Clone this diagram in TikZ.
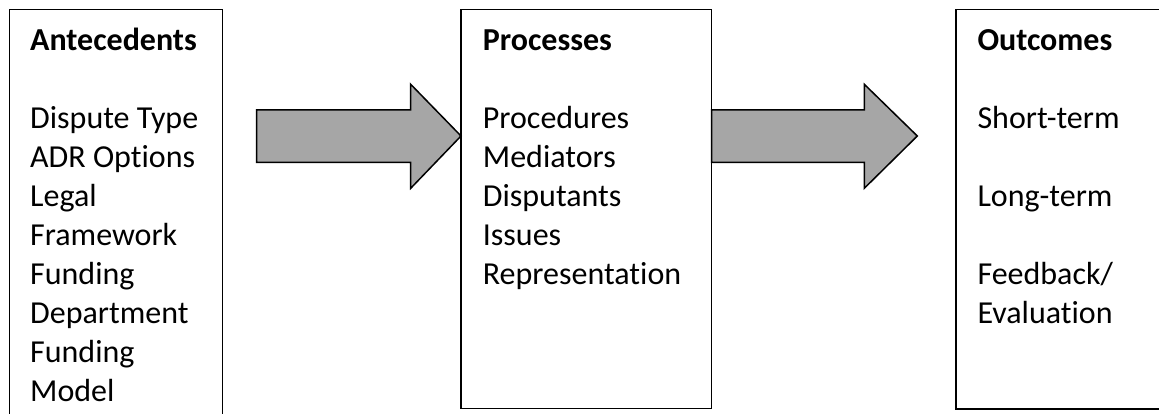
\documentclass[tikz,border=0pt]{standalone}
\usepackage{fontspec}
\setmainfont[Ligatures={NoCommon}]{Carlito}
\begin{document}
\begin{tikzpicture}[x=1pt,y=-1pt,
  box/.style={draw=black, line width=1.5pt, fill=white},
  bigarrow/.style={draw=black, line width=1.5pt, fill=arrowgray, line join=miter},
  lbl/.style={inner sep=0pt, anchor=base west, align=left, font=\fontsize{32}{39}\selectfont}
]
\definecolor{arrowgray}{HTML}{A6A6A6}
\useasboundingbox (0,0) rectangle (1159,414);
% boxes
\path[box] (9.5,9.5) rectangle (222.7,440);
\coordinate (antE) at (222.7,136);
\path[box] (461,9.5) rectangle (711.7,408.5);
\coordinate (proW) at (461,136);
\coordinate (proE) at (711.7,136);
\path[box] (956,9.5) rectangle (1180,409);
\coordinate (outW) at (956,136);
% arrows
\coordinate (a1tail) at (256.7,136);
\draw[bigarrow] (a1tail) ++(0,-26) -- (410.7,110) -- (410.7,84.3) -- (proW) -- (410.7,188.3) -- (410.7,162.3) -- (256.7,162.3) -- cycle;
\coordinate (a2tip) at (917.3,136);
\draw[bigarrow] (proE) ++(0,-26) -- (864.3,110) -- (864.3,84.3) -- (a2tip) -- (864.3,188.3) -- (864.3,162.3) -- (711.7,162.3) -- cycle;
% texts (anchored at the baseline of the last line)
\node[lbl] (ant) at (30,401.7) {\textbf{Antecedents}\\[39pt]Dispute Type\\ADR Options\\Legal\\Framework\\Funding\\Department\\Funding\\Model};
\node[lbl] (pro) at (482.7,284.7) {\textbf{Processes}\\[39pt]Procedures\\Mediators\\Disputants\\Issues\\Representation};
\node[lbl] (out) at (977.3,323.7) {\textbf{Outcomes}\\[39pt]Short-term\\[39pt]Long-term\\[39pt]Feedback/\\Evaluation};
\end{tikzpicture}
\end{document}
